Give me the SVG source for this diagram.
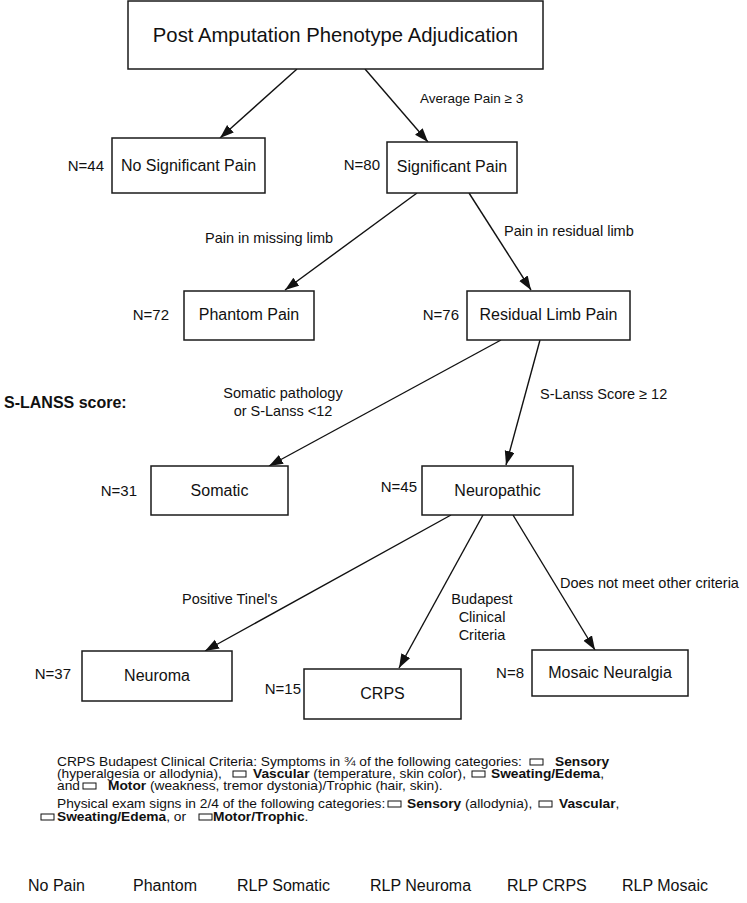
<svg xmlns="http://www.w3.org/2000/svg" width="747" height="903" viewBox="0 0 747 903">
<style>
text{font-family:"Liberation Sans",Arial,Helvetica,sans-serif;fill:#111}
.box{fill:#fff;stroke:#1a1a1a;stroke-width:1.5}
.nl{font-size:16px;text-anchor:middle}
.n{font-size:15px;text-anchor:end}
.el{font-size:14.5px}
.con{stroke:#111;stroke-width:1.4;fill:none;marker-end:url(#ah)}
.fn{font-size:12.5px}
.b{font-weight:bold}
.cb{fill:none;stroke:#111;stroke-width:1}
.bot{font-size:16px}
</style>
<defs>
<marker id="ah" markerUnits="userSpaceOnUse" markerWidth="16" markerHeight="12" refX="14" refY="5" orient="auto">
<path d="M0,0 L14,5 L0,10 Z" fill="#111"/>
</marker>
</defs>
<rect width="747" height="903" fill="#fff"/>
<g id="connectors">
<line class="con" x1="297" y1="69" x2="220" y2="138"/>
<line class="con" x1="365" y1="69" x2="428" y2="142"/>
<line class="con" x1="417" y1="193" x2="285" y2="290"/>
<line class="con" x1="469" y1="193" x2="531" y2="290"/>
<line class="con" x1="501" y1="340" x2="269" y2="466"/>
<line class="con" x1="540" y1="340" x2="506" y2="465"/>
<line class="con" x1="451" y1="515" x2="205" y2="651"/>
<line class="con" x1="483" y1="515" x2="399" y2="668"/>
<line class="con" x1="513" y1="515" x2="595" y2="650"/>
<text class="el" x="420" y="103" style="font-size:13.5px">Average Pain ≥ 3</text>
<text class="el" x="205" y="243">Pain in missing limb</text>
<text class="el" x="504" y="236">Pain in residual limb</text>
<text class="el" x="283" y="398" text-anchor="middle">Somatic pathology</text>
<text class="el" x="283" y="416" text-anchor="middle">or S-Lanss &lt;12</text>
<text class="el" x="540" y="399">S-Lanss Score ≥ 12</text>
<text class="el" x="182" y="604">Positive Tinel's</text>
<text class="el" x="482" y="604" text-anchor="middle">Budapest</text>
<text class="el" x="482" y="622" text-anchor="middle">Clinical</text>
<text class="el" x="482" y="640" text-anchor="middle">Criteria</text>
<text class="el" x="560" y="588">Does not meet other criteria</text>
</g>
<g id="top">
<rect class="box" x="128" y="1" width="415" height="68"/>
<text x="335.5" y="42" style="font-size:20.3px" text-anchor="middle">Post Amputation Phenotype Adjudication</text>
</g>
<g id="nosig">
<rect class="box" x="112" y="138" width="153" height="55"/>
<text class="nl" x="188.5" y="171">No Significant Pain</text>
<text class="n" x="104" y="171">N=44</text>
</g>
<g id="sig">
<rect class="box" x="387" y="142" width="130" height="51"/>
<text class="nl" x="452" y="172">Significant Pain</text>
<text class="n" x="380" y="170">N=80</text>
</g>
<g id="phantom">
<rect class="box" x="184" y="291" width="130" height="49"/>
<text class="nl" x="249" y="320">Phantom Pain</text>
<text class="n" x="169" y="320">N=72</text>
</g>
<g id="rlp">
<rect class="box" x="467" y="291" width="163" height="49"/>
<text class="nl" x="548.5" y="320">Residual Limb Pain</text>
<text class="n" x="459" y="320">N=76</text>
</g>
<g id="slanss">
<text x="4" y="408" style="font-size:16px" class="b">S-LANSS score:</text>
</g>
<g id="somatic">
<rect class="box" x="151" y="466" width="137" height="49"/>
<text class="nl" x="219.5" y="496">Somatic</text>
<text class="n" x="137" y="496">N=31</text>
</g>
<g id="neuropathic">
<rect class="box" x="422" y="466" width="151" height="49"/>
<text class="nl" x="497.5" y="496">Neuropathic</text>
<text class="n" x="417" y="492">N=45</text>
</g>
<g id="neuroma">
<rect class="box" x="82" y="651" width="150" height="50"/>
<text class="nl" x="157" y="681">Neuroma</text>
<text class="n" x="71" y="679">N=37</text>
</g>
<g id="crps">
<rect class="box" x="304" y="669" width="157" height="50"/>
<text class="nl" x="382.5" y="699">CRPS</text>
<text class="n" x="301" y="694">N=15</text>
</g>
<g id="mosaic">
<rect class="box" x="532" y="650" width="156" height="46"/>
<text class="nl" x="610" y="678">Mosaic Neuralgia</text>
<text class="n" x="524" y="678">N=8</text>
</g>
<g id="footnote">
<rect class="cb" x="530" y="759" width="13" height="6"/>
<rect class="cb" x="233" y="771" width="13" height="6"/>
<rect class="cb" x="472" y="771" width="13" height="6"/>
<rect class="cb" x="83" y="783" width="13" height="6"/>
<rect class="cb" x="388" y="801" width="13" height="6"/>
<rect class="cb" x="539" y="801" width="13" height="6"/>
<rect class="cb" x="41" y="814" width="13" height="6"/>
<rect class="cb" x="199" y="814" width="13" height="6"/>
<g transform="scale(1.1,1)">
<text class="fn" x="51.82" y="766">CRPS Budapest Clinical Criteria: Symptoms in ¾ of the following categories:</text>
<text class="fn b" x="504.55" y="766">Sensory</text>
<text class="fn" x="51.82" y="778">(hyperalgesia or allodynia),</text>
<text class="fn" x="230" y="778"><tspan class="b">Vascular</tspan> (temperature, skin color),</text>
<text class="fn" x="446.36" y="778"><tspan class="b">Sweating/Edema</tspan>,</text>
<text class="fn" x="51.82" y="790">and</text>
<text class="fn" x="98.18" y="790"><tspan class="b">Motor</tspan> (weakness, tremor dystonia)/Trophic (hair, skin).</text>
<text class="fn" x="51.82" y="808">Physical exam signs in 2/4 of the following categories:</text>
<text class="fn" x="370" y="808"><tspan class="b">Sensory</tspan> (allodynia),</text>
<text class="fn" x="508.18" y="808"><tspan class="b">Vascular</tspan>,</text>
<text class="fn" x="51.82" y="821"><tspan class="b">Sweating/Edema</tspan>, or</text>
<text class="fn" x="193.64" y="821"><tspan class="b">Motor/Trophic</tspan>.</text>
</g>
</g>
<g id="legend">
<text class="bot" x="28" y="891">No Pain</text>
<text class="bot" x="133" y="891">Phantom</text>
<text class="bot" x="237" y="891">RLP Somatic</text>
<text class="bot" x="370" y="891">RLP Neuroma</text>
<text class="bot" x="507" y="891">RLP CRPS</text>
<text class="bot" x="622" y="891">RLP Mosaic</text>
</g>
</svg>
